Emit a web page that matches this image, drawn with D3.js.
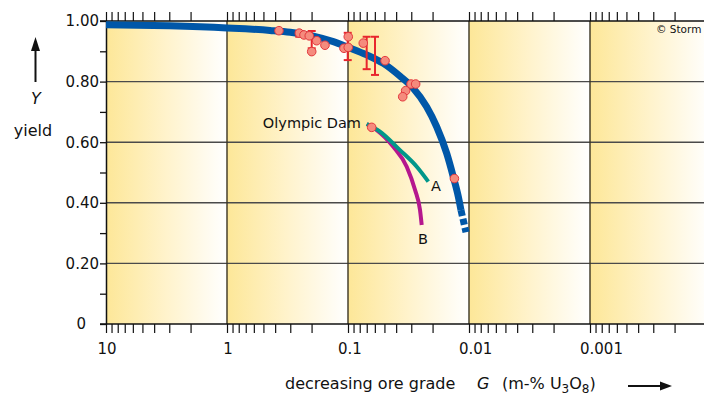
<!DOCTYPE html>
<html>
<head>
<meta charset="utf-8">
<script src="https://cdn.jsdelivr.net/npm/d3@7"></script>
<style>
  body { margin: 0; background: #fff; }
  svg { display: block; font-family: "DejaVu Sans", sans-serif; }
</style>
</head>
<body>
<div id="chart"></div>
<script>
// decades shown on the grade axis (m-% U3O8)
const decades = [10, 1, 0.1, 0.01, 0.001];
const gradeLabels = ["10", "1", "0.1", "0.01", "0.001"];
const yieldTicks = [0, 0.2, 0.4, 0.6, 0.8, 1.0];
const yieldLabels = ["0", "0.20", "0.40", "0.60", "0.80", "1.00"];

// main yield curve (grade, yield)
const curveG = [10, 3, 1, 0.441, 0.3, 0.1936, 0.1322, 0.0995, 0.07, 0.051, 0.0372, 0.0289, 0.0224, 0.0185, 0.01528, 0.01349, 0.01225, 0.01165];
const curveY = [0.988, 0.984, 0.977, 0.969, 0.963, 0.950, 0.932, 0.913, 0.888, 0.860, 0.818, 0.778, 0.717, 0.651, 0.563, 0.486, 0.420, 0.376];
const dashG = [0.01165, 0.01059];
const dashY = [0.376, 0.303];

// Olympic Dam branches
const curveAG = [0.0700, 0.0544, 0.0372, 0.0270, 0.0217];
const curveAY = [0.660, 0.635, 0.574, 0.519, 0.470];
const curveBG = [0.0700, 0.0579, 0.0422, 0.0327, 0.0279, 0.0254, 0.0246];
const curveBY = [0.660, 0.640, 0.585, 0.519, 0.442, 0.376, 0.327];

// measured mines
const pointG = [0.372, 0.2526, 0.231, 0.209, 0.1995, 0.1815, 0.155, 0.108, 0.0995, 0.0995, 0.0748, 0.0494, 0.0301, 0.0276, 0.0334, 0.0353, 0.0132, 0.0637];
const pointY = [0.968, 0.960, 0.954, 0.951, 0.899, 0.935, 0.920, 0.910, 0.948, 0.913, 0.927, 0.869, 0.792, 0.792, 0.770, 0.750, 0.480, 0.649];

// error bars
const errG = [0.2526, 0.1995, 0.1005, 0.0701, 0.0598];
const errLo = [0.948, 0.910, 0.871, 0.841, 0.822];
const errHi = [0.967, 0.967, 0.961, 0.948, 0.948];

const width = 704, height = 396;
const mLeft = 106, mTop = 21, mBottom = 324;

const svg = d3.select("#chart").append("svg")
  .attr("width", width)
  .attr("height", height);

const x = d3.scaleLog().domain([10, 0.001]).range([mLeft, 590]);
const y = d3.scaleLinear().domain([0, 1]).range([mBottom, mTop]);

// gradient per decade
const grad = svg.append("defs").append("linearGradient")
  .attr("id", "dec").attr("x1", "0").attr("x2", "1").attr("y1", "0").attr("y2", "0");
grad.append("stop").attr("offset", "0").attr("stop-color", "#fde798");
grad.append("stop").attr("offset", "0.5").attr("stop-color", "#fff3cc");
grad.append("stop").attr("offset", "1").attr("stop-color", "#ffffff");

svg.selectAll("rect.dec")
  .data(decades)
  .enter().append("rect")
  .attr("class", "dec")
  .attr("x", d => x(d))
  .attr("y", mTop)
  .attr("width", d => x(d / 10) - x(d))
  .attr("height", mBottom - mTop)
  .attr("fill", "url(#dec)");

// grid
svg.selectAll("line.hgrid")
  .data(yieldTicks.slice(1, 5))
  .enter().append("line")
  .attr("x1", mLeft).attr("x2", width)
  .attr("y1", d => y(d)).attr("y2", d => y(d))
  .attr("stroke", "#4a4a4a").attr("stroke-width", 1.4);

svg.selectAll("line.vgrid")
  .data(decades.slice(1))
  .enter().append("line")
  .attr("x1", d => x(d)).attr("x2", d => x(d))
  .attr("y1", mTop).attr("y2", mBottom)
  .attr("stroke", "#3a3422").attr("stroke-width", 1.4);

// minor log ticks
let tickVals = [];
decades.forEach(d => { for (let k = 1; k <= 9; k++) tickVals.push(k * d / 10); });
tickVals.push(10);

const topAxis = svg.append("g")
  .attr("transform", `translate(0,${mTop})`)
  .call(d3.axisTop(x).tickValues(tickVals).tickFormat("").tickSize(9).tickSizeOuter(0));
const botAxis = svg.append("g")
  .attr("transform", `translate(0,${mBottom})`)
  .call(d3.axisBottom(x).tickValues(tickVals).tickFormat("").tickSize(9).tickSizeOuter(0));
[topAxis, botAxis].forEach(a => {
  a.select(".domain").remove();
  a.selectAll("line").attr("stroke", "#111").attr("stroke-width", 1.2);
});

// frame lines
svg.append("line").attr("x1", mLeft - 6).attr("x2", width).attr("y1", mTop).attr("y2", mTop)
  .attr("stroke", "#111").attr("stroke-width", 1.5);
svg.append("line").attr("x1", mLeft - 6).attr("x2", width).attr("y1", mBottom).attr("y2", mBottom)
  .attr("stroke", "#111").attr("stroke-width", 1.5);

const leftAxis = svg.append("g")
  .attr("transform", `translate(${mLeft},0)`)
  .call(d3.axisLeft(y).tickValues(d3.range(0, 1.01, 0.1)).tickFormat("").tickSize(6).tickSizeOuter(0));
leftAxis.select(".domain").attr("stroke", "#111").attr("stroke-width", 1.5);
leftAxis.selectAll("line").attr("stroke", "#111").attr("stroke-width", 1.3);

// y tick labels
svg.selectAll("text.ylab")
  .data(yieldTicks)
  .enter().append("text")
  .attr("x", (d, i) => i === 0 ? 86 : 99)
  .attr("y", d => y(d))
  .attr("dy", "0.36em")
  .attr("text-anchor", "end")
  .attr("font-size", 15)
  .attr("fill", "#111")
  .text((d, i) => yieldLabels[i]);

// x tick labels
svg.selectAll("text.xlab")
  .data(decades)
  .enter().append("text")
  .attr("x", (d, i) => gradeLabels[i].startsWith("0.") ? x(d) - 10 : x(d) + 1)
  .attr("y", 354)
  .attr("text-anchor", (d, i) => gradeLabels[i].startsWith("0.") ? "start" : "middle")
  .attr("font-size", 15)
  .attr("fill", "#111")
  .text((d, i) => gradeLabels[i]);

// curves
const line = d3.line()
  .x(d => x(d[0]))
  .y(d => y(d[1]))
  .curve(d3.curveMonotoneX);

svg.append("path")
  .datum(curveBG.map((g, i) => [g, curveBY[i]]))
  .attr("d", line)
  .attr("fill", "none").attr("stroke", "#b5178e").attr("stroke-width", 4);
svg.append("path")
  .datum(curveAG.map((g, i) => [g, curveAY[i]]))
  .attr("d", line)
  .attr("fill", "none").attr("stroke", "#00978a").attr("stroke-width", 4);

svg.append("path")
  .datum(curveG.map((g, i) => [g, curveY[i]]))
  .attr("d", line)
  .attr("fill", "none").attr("stroke", "#0057a8").attr("stroke-width", 7);
svg.append("path")
  .datum(dashG.map((g, i) => [g, dashY[i]]))
  .attr("d", line)
  .attr("fill", "none").attr("stroke", "#0057a8").attr("stroke-width", 7)
  .attr("stroke-dasharray", "6,3");

// error bars
const eb = svg.selectAll("g.err")
  .data(errG.map((g, i) => ({ g: g, lo: errLo[i], hi: errHi[i] })))
  .enter().append("g")
  .attr("stroke", "#e8262d").attr("stroke-width", 2);
eb.append("line")
  .attr("x1", d => x(d.g)).attr("x2", d => x(d.g))
  .attr("y1", d => y(d.lo)).attr("y2", d => y(d.hi));
eb.append("line")
  .attr("x1", d => x(d.g) - 4).attr("x2", d => x(d.g) + 4)
  .attr("y1", d => y(d.lo)).attr("y2", d => y(d.lo));
eb.append("line")
  .attr("x1", d => x(d.g) - 4).attr("x2", d => x(d.g) + 4)
  .attr("y1", d => y(d.hi)).attr("y2", d => y(d.hi));

// points
svg.selectAll("circle.pt")
  .data(pointG.map((g, i) => [g, pointY[i]]))
  .enter().append("circle")
  .attr("cx", d => x(d[0]))
  .attr("cy", d => y(d[1]))
  .attr("r", 4.3)
  .attr("fill", "#f58b7d")
  .attr("stroke", "#e3383d")
  .attr("stroke-width", 1);

// annotations
svg.append("text").attr("x", 361).attr("y", 128).attr("text-anchor", "end")
  .attr("font-size", 14.5).attr("fill", "#111").text("Olympic Dam");
svg.append("text").attr("x", 431).attr("y", 191)
  .attr("font-size", 14.5).attr("fill", "#111").text("A");
svg.append("text").attr("x", 418).attr("y", 244)
  .attr("font-size", 14.5).attr("fill", "#111").text("B");
svg.append("text").attr("x", 656).attr("y", 33)
  .attr("font-size", 10.5).attr("fill", "#111").text("© Storm");

// y label
svg.append("line").attr("x1", 35.5).attr("x2", 35.5).attr("y1", 82).attr("y2", 48)
  .attr("stroke", "#111").attr("stroke-width", 2);
svg.append("path").attr("d", "M31,51 L40,51 L35.5,37 Z").attr("fill", "#111");
svg.append("text").attr("x", 36).attr("y", 104).attr("text-anchor", "middle")
  .attr("font-size", 16).attr("font-style", "italic").attr("fill", "#111").text("Y");
svg.append("text").attr("x", 33).attr("y", 136).attr("text-anchor", "middle")
  .attr("font-size", 16).attr("fill", "#111").text("yield");

// x label
const xt = svg.append("text").attr("y", 389).attr("font-size", 16).attr("fill", "#111");
xt.append("tspan").attr("x", 285).text("decreasing ore grade");
xt.append("tspan").attr("x", 477).attr("font-style", "italic").text("G");
xt.append("tspan").attr("x", 502).text("(m-% U");
xt.append("tspan").attr("dy", 4).attr("font-size", 12).text("3");
xt.append("tspan").attr("dy", -4).text("O");
xt.append("tspan").attr("dy", 4).attr("font-size", 12).text("8");
xt.append("tspan").attr("dy", -4).text(")");
svg.append("line").attr("x1", 628).attr("x2", 662).attr("y1", 386).attr("y2", 386)
  .attr("stroke", "#111").attr("stroke-width", 2);
svg.append("path").attr("d", "M660,381.5 L672,386 L660,390.5 Z").attr("fill", "#111");
</script>
</body>
</html>
